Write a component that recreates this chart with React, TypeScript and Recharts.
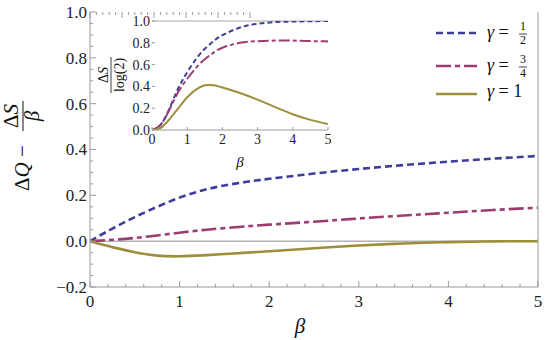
import { Line, LineChart, ReferenceLine, XAxis, YAxis } from 'recharts'

// main panel: ΔQ − ΔS/β against β
const betaMain = [0, 0.25, 0.5, 0.75, 1, 1.25, 1.5, 1.75, 2, 2.5, 3, 3.5, 4, 4.5, 5]
const mainHalf = [0, 0.055, 0.105, 0.15, 0.19, 0.221, 0.243, 0.259, 0.272, 0.295, 0.315, 0.332, 0.347, 0.36, 0.372]
const mainThreeQuarter = [0, 0.006, 0.014, 0.025, 0.037, 0.048, 0.057, 0.065, 0.072, 0.085, 0.099, 0.112, 0.124, 0.136, 0.146]
const mainOne = [0, -0.026, -0.048, -0.063, -0.066, -0.062, -0.056, -0.05, -0.044, -0.031, -0.019, -0.01, -0.004, -0.001, 0]

// inset: ΔS / log(2) against β
const betaInset = [0, 0.25, 0.5, 0.75, 1, 1.25, 1.5, 1.75, 2, 2.5, 3, 3.5, 4, 4.5, 5]
const insetHalf = [0, 0.05, 0.2, 0.385, 0.53, 0.65, 0.745, 0.815, 0.87, 0.94, 0.975, 0.99, 0.995, 0.998, 1.0]
const insetThreeQuarter = [0, 0.05, 0.19, 0.35, 0.47, 0.57, 0.65, 0.71, 0.755, 0.8, 0.815, 0.82, 0.82, 0.816, 0.813]
const insetOne = [0, 0.02, 0.1, 0.2, 0.3, 0.37, 0.41, 0.41, 0.39, 0.34, 0.278, 0.21, 0.145, 0.093, 0.055]

const mainXMajor = [0, 1, 2, 3, 4, 5]
const mainXMinor = [0.2, 0.4, 0.6, 0.8, 1.2, 1.4, 1.6, 1.8, 2.2, 2.4, 2.6, 2.8, 3.2, 3.4, 3.6, 3.8, 4.2, 4.4, 4.6, 4.8]
const mainYMajor = [-0.2, 0, 0.2, 0.4, 0.6, 0.8, 1.0]
const mainYMinor = [-0.15, -0.1, -0.05, 0.05, 0.1, 0.15, 0.25, 0.3, 0.35, 0.45, 0.5, 0.55, 0.65, 0.7, 0.75, 0.85, 0.9, 0.95]
const insetXMajor = [0, 1, 2, 3, 4, 5]
const insetYMajor = [0, 0.2, 0.4, 0.6, 0.8, 1.0]

const legendLabels = [
  { num: '1', den: '2' },
  { num: '3', den: '4' },
  { num: '1', den: '' },
]

const FONT = 'Liberation Serif, Times New Roman, Times, DejaVu Serif, serif'
const FRAME = '#9a9a9a'
const BLUE = '#3d3d9c'
const PURPLE = '#9b3d72'
const GOLD = '#9c8e3a'

const seriesStyles = [
  { key: 'half', color: BLUE, dash: '7 4', insetDash: '5 3' },
  { key: 'threeQuarter', color: PURPLE, dash: '15 4 5 4', insetDash: '11 3 4 3' },
  { key: 'one', color: GOLD, dash: undefined, insetDash: undefined },
]

const mainRows = betaMain.map((b, i) => ({
  beta: b,
  half: mainHalf[i],
  threeQuarter: mainThreeQuarter[i],
  one: mainOne[i],
}))

const insetRows = betaInset.map((b, i) => ({
  beta: b,
  half: insetHalf[i],
  threeQuarter: insetThreeQuarter[i],
  one: insetOne[i],
}))

type Side = 'left' | 'right' | 'top' | 'bottom'

function fmt(v: number, digits: number) {
  const s = Math.abs(v).toFixed(digits)
  return v < -1e-9 ? '\u2212' + s : s
}

function makeTick(side: Side, major: number[], gap: number, majorLen: number, minorLen: number, fontSize: number, labels: boolean, digits: number) {
  return (props: any) => {
    const { x, y, payload } = props
    const v = payload.value as number
    const isMajor = major.some((m) => Math.abs(m - v) < 1e-9)
    const len = isMajor ? majorLen : minorLen
    let line = null
    let text = null
    const textStyle = { fontFamily: FONT, fontSize }
    if (side === 'left') {
      const ax = x + gap
      line = <line x1={ax} y1={y} x2={ax + len} y2={y} stroke={FRAME} />
      if (labels && isMajor)
        text = <text x={x} y={y} dy="0.35em" textAnchor="end" style={textStyle} fill="#222">{fmt(v, digits)}</text>
    } else if (side === 'right') {
      const ax = x - gap
      line = <line x1={ax} y1={y} x2={ax - len} y2={y} stroke={FRAME} />
    } else if (side === 'top') {
      const ay = y + gap
      line = <line x1={x} y1={ay} x2={x} y2={ay + len} stroke={FRAME} />
    } else {
      const ay = y - gap
      line = <line x1={x} y1={ay} x2={x} y2={ay - len} stroke={FRAME} />
      if (labels && isMajor)
        text = <text x={x} y={y} dy="0.72em" textAnchor="middle" style={textStyle} fill="#222">{fmt(v, digits)}</text>
    }
    return (
      <g>
        {line}
        {text}
      </g>
    )
  }
}

// legend and axis titles drawn on top of the charts
function Overlay() {
  const rows = [33, 66, 94]
  return (
    <svg width={545} height={340} style={{ position: 'absolute', left: 0, top: 0, pointerEvents: 'none', fontFamily: FONT }} fill="#111">
      {seriesStyles.map((s, i) => {
        const lbl = legendLabels[i]
        const y = rows[i]
        const base = lbl.den ? y + 5 : y + 3
        return (
          <g key={s.key}>
            <line x1={436} x2={477} y1={y} y2={y} stroke={s.color} strokeWidth={2.5} strokeDasharray={s.dash} />
            <text x={487} y={base} style={{ fontSize: 18 }}>
              <tspan fontStyle="italic">γ</tspan> =
              {!lbl.den && <tspan> {lbl.num}</tspan>}
            </text>
            {lbl.den && (
              <g style={{ fontSize: 12 }} textAnchor="middle">
                <text x={523} y={y - 3}>{lbl.num}</text>
                <line x1={519} x2={527} y1={y + 1} y2={y + 1} stroke="#111" strokeWidth={0.8} />
                <text x={523} y={y + 11}>{lbl.den}</text>
              </g>
            )}
          </g>
        )
      })}
      {/* main y label, rotated */}
      <g transform="rotate(-90)" style={{ fontSize: 21 }}>
        <text x={-191} y={29}>
          Δ<tspan fontStyle="italic">Q</tspan> −
        </text>
        <text x={-116} y={18} textAnchor="middle">
          Δ<tspan fontStyle="italic">S</tspan>
        </text>
        <line x1={-131} x2={-101} y1={23} y2={23} stroke="#111" strokeWidth={1} />
        <text x={-116} y={39} textAnchor="middle" fontStyle="italic">β</text>
      </g>
      <text x={300} y={333} style={{ fontSize: 21 }} fontStyle="italic" textAnchor="middle">β</text>
      {/* inset y label */}
      <g transform="rotate(-90)" style={{ fontSize: 14 }}>
        <text x={-75} y={108} textAnchor="middle">
          Δ<tspan fontStyle="italic">S</tspan>
        </text>
        <line x1={-93} x2={-57} y1={111} y2={111} stroke="#111" strokeWidth={0.8} />
        <text x={-75} y={124} textAnchor="middle">log(2)</text>
      </g>
      <text x={240} y={167} style={{ fontSize: 15 }} fontStyle="italic" textAnchor="middle">β</text>
    </svg>
  )
}

export default function App() {
  return (
    <div style={{ position: 'fixed', left: 0, top: 0, width: 545, height: 340, background: '#fff', fontFamily: FONT }}>
      <LineChart width={545} height={340} data={mainRows} margin={{ top: 11, right: 6, bottom: 0, left: 0 }}>
        <XAxis
          xAxisId="x"
          dataKey="beta"
          type="number"
          domain={[0, 5]}
          ticks={[...mainXMajor, ...mainXMinor]}
          interval={0}
          height={53}
          axisLine={{ stroke: FRAME }}
          tickLine={false}
          tickSize={0}
          tickMargin={8}
          tick={makeTick('bottom', mainXMajor, 8, 6, 3, 17, true, 0)}
          allowDataOverflow
        />
        <XAxis
          xAxisId="top"
          orientation="top"
          type="number"
          domain={[0, 5]}
          ticks={[...mainXMajor, ...mainXMinor]}
          interval={0}
          height={1}
          axisLine={false}
          tickLine={false}
          tickSize={0}
          tickMargin={0}
          tick={makeTick('top', mainXMajor, 0, 6, 3, 17, false, 0)}
        />
        <YAxis
          yAxisId="y"
          type="number"
          domain={[-0.2, 1]}
          ticks={[...mainYMajor, ...mainYMinor]}
          interval={0}
          width={90}
          axisLine={{ stroke: FRAME }}
          tickLine={false}
          tickSize={0}
          tickMargin={3}
          tick={makeTick('left', mainYMajor, 3, 6, 3, 17, true, 1)}
          allowDataOverflow
        />
        <YAxis
          yAxisId="right"
          orientation="right"
          type="number"
          domain={[-0.2, 1]}
          ticks={[...mainYMajor, ...mainYMinor]}
          interval={0}
          width={1}
          axisLine={{ stroke: FRAME }}
          tickLine={false}
          tickSize={0}
          tickMargin={0}
          tick={makeTick('right', mainYMajor, 0, 6, 3, 17, false, 1)}
        />
        <ReferenceLine xAxisId="x" yAxisId="y" y={0} stroke="#8a8a8a" strokeWidth={1} />
        {seriesStyles.map((s) => (
          <Line
            key={s.key}
            xAxisId="x"
            yAxisId="y"
            type="natural"
            dataKey={s.key}
            stroke={s.color}
            strokeWidth={2.6}
            strokeDasharray={s.dash}
            dot={false}
            activeDot={false}
            isAnimationActive={false}
          />
        ))}
      </LineChart>

      <div style={{ position: 'absolute', left: 95, top: 5 }}>
        <LineChart width={245} height={170} data={insetRows} margin={{ top: 16, right: 12, bottom: 0, left: 0 }}>
          <XAxis
            dataKey="beta"
            type="number"
            domain={[0, 5]}
            ticks={insetXMajor}
            interval={0}
            height={45}
            axisLine={{ stroke: FRAME }}
            tickLine={false}
            tickSize={0}
            tickMargin={4}
            tick={makeTick('bottom', insetXMajor, 4, 3, 2, 14, true, 0)}
            allowDataOverflow
          />
          <YAxis
            type="number"
            domain={[0, 1]}
            ticks={insetYMajor}
            interval={0}
            width={57}
            axisLine={false}
            tickLine={false}
            tickSize={0}
            tickMargin={2}
            tick={makeTick('left', insetYMajor, 2, 3, 2, 14, true, 1)}
            allowDataOverflow
          />
          <ReferenceLine y={1} stroke="#a8a8a8" strokeWidth={1} />
          {seriesStyles.map((s) => (
            <Line
              key={s.key}
              type="natural"
              dataKey={s.key}
              stroke={s.color}
              strokeWidth={2}
              strokeDasharray={s.insetDash}
              dot={false}
              activeDot={false}
              isAnimationActive={false}
            />
          ))}
        </LineChart>
      </div>

      <Overlay />
    </div>
  )
}
